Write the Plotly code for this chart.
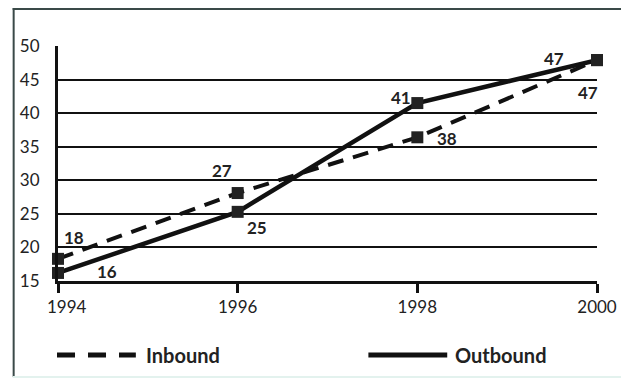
import plotly.graph_objects as go

years = [1994, 1996, 1998, 2000]
year_labels = ["\u00a0\u00a0\u00a0\u00a01994", "1996", "1998", "2000"]
inbound = [18.3, 28.1, 36.4, 47.9]
outbound = [16.2, 25.3, 41.5, 47.9]
inbound_labels = ["18", "27", "38", "47"]
outbound_labels = ["16", "25", "41", "47"]
y_ticks = [15, 20, 25, 30, 35, 40, 45, 50]
legend_names = ["Inbound", "Outbound"]

OFF = 8  # page body margin
W, H = 629 - OFF, 383 - OFF
L, T = 54 - OFF, 46 - OFF
R = W - (601 - OFF)
B = H - (281 - OFF)
PW, PH = W - L - R, H - T - B


def px(x):  # screen pixel -> paper
    return (x - OFF - L) / PW


def py(y):
    return (H - B - (y - OFF)) / PH


FONT = "Lato"
fig = go.Figure()

fig.add_trace(go.Scatter(
    x=years, y=inbound, mode="lines+markers", name=legend_names[0],
    line=dict(color="#111", width=4, dash="16px,10px"),
    marker=dict(symbol="square", size=12, color="#222"),
    cliponaxis=False, showlegend=False))
fig.add_trace(go.Scatter(
    x=years, y=outbound, mode="lines+markers", name=legend_names[1],
    line=dict(color="#111", width=4.5),
    marker=dict(symbol="square", size=12, color="#222"),
    cliponaxis=False, showlegend=False))

lab_font = dict(family=FONT, size=17, color="#222")
in_off = [(16, 21), (-16, 23), (30, -1), (-9, -32)]
out_off = [(49, 1), (19, -16), (-16, 6), (-43, 2)]
for xv, yv, t, (dx, dy) in zip(years, inbound, inbound_labels, in_off):
    fig.add_annotation(x=xv, y=yv, text="<b>%s</b>" % t, showarrow=False,
                       xshift=dx, yshift=dy, font=lab_font)
for xv, yv, t, (dx, dy) in zip(years, outbound, outbound_labels, out_off):
    fig.add_annotation(x=xv, y=yv, text="<b>%s</b>" % t, showarrow=False,
                       xshift=dx, yshift=dy, font=lab_font)

shapes = []
shapes.append(dict(type="line", xref="paper", yref="paper",
                   x0=px(OFF), x1=px(629), y0=py(OFF + 1), y1=py(OFF + 1),
                   line=dict(color="#3a4a48", width=2)))
shapes.append(dict(type="line", xref="paper", yref="paper",
                   x0=px(OFF + 1), x1=px(OFF + 1), y0=py(377), y1=py(OFF),
                   line=dict(color="#3a4a48", width=2)))
shapes.append(dict(type="line", xref="paper", yref="paper",
                   x0=px(OFF), x1=px(629), y0=py(377), y1=py(377),
                   line=dict(color="#e3f2ee", width=2)))
# legend symbols
shapes.append(dict(type="line", xref="paper", yref="paper",
                   x0=px(53), x1=px(133), y0=py(355), y1=py(355),
                   line=dict(color="#111", width=5, dash="18px,13px")))
shapes.append(dict(type="line", xref="paper", yref="paper",
                   x0=px(369), x1=px(449), y0=py(355), y1=py(355),
                   line=dict(color="#111", width=5)))
fig.add_annotation(xref="paper", yref="paper", x=px(141), y=py(355),
                   xanchor="left", yanchor="middle", showarrow=False,
                   text="<b>%s</b>" % legend_names[0],
                   font=dict(family=FONT, size=20, color="#222"))
fig.add_annotation(xref="paper", yref="paper", x=px(455), y=py(355),
                   xanchor="left", yanchor="middle", showarrow=False,
                   text="<b>%s</b>" % legend_names[1],
                   font=dict(family=FONT, size=20, color="#222"))

fig.update_layout(
    width=W, height=H,
    margin=dict(l=L, r=R, t=T, b=B, pad=0),
    paper_bgcolor="white", plot_bgcolor="white",
    shapes=shapes,
    showlegend=False,
    xaxis=dict(range=[1994, 2000], tickvals=years, ticktext=year_labels,
               ticks="outside",
               ticklen=9, tickwidth=3, tickcolor="#111",
               showgrid=False, zeroline=False, showline=True,
               linecolor="#111", linewidth=3,
               tickfont=dict(family=FONT, size=17, color="#222")),
    yaxis=dict(range=[15, 50], tickvals=y_ticks, ticks="outside",
               ticklen=12, tickcolor="rgba(0,0,0,0)",
               showgrid=True, gridcolor="#111", gridwidth=2,
               zeroline=False, showline=True, linecolor="#111", linewidth=3,
               tickfont=dict(family=FONT, size=17, color="#222")),
)

fig.write_html("out.html")
